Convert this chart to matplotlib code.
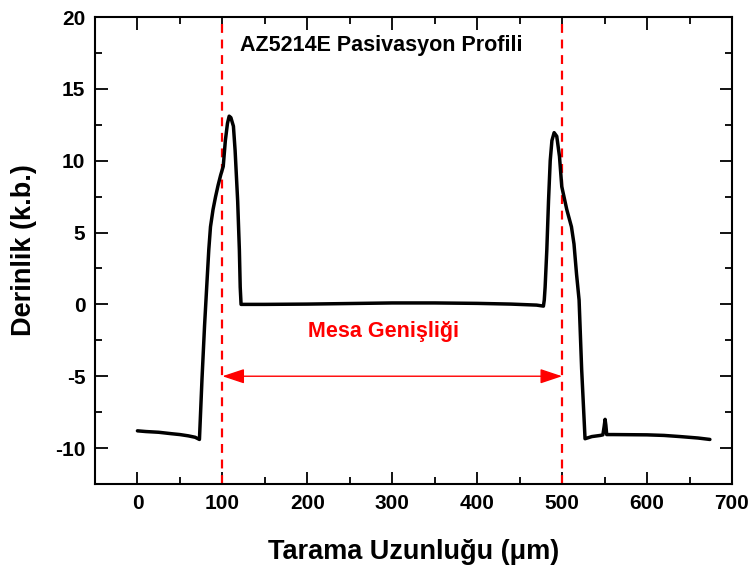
import numpy as np
import matplotlib
matplotlib.use("Agg")
import matplotlib.pyplot as plt
from matplotlib.ticker import MultipleLocator

# profile trace (scan length in um, depth in a.u.)
x_left = [0, 10, 25, 40, 50, 60, 68, 73, 76, 79, 82, 84, 86, 89, 92, 95, 98, 101,
          103.5, 106, 108, 110, 113, 115, 118, 120, 121, 122]
y_left = [-8.8, -8.85, -8.9, -9.0, -9.06, -9.15, -9.25, -9.4, -5.2, -1.5, 1.7, 3.8,
          5.4, 6.6, 7.5, 8.3, 9.0, 9.6, 11.4, 12.6, 13.1, 13.0, 12.4, 10.7, 7.2,
          3.8, 1.2, 0.0]
x_flat = [125, 150, 200, 250, 300, 350, 400, 440, 470, 478]
y_flat = [0.0, 0.0, 0.02, 0.06, 0.1, 0.1, 0.07, 0.02, -0.05, -0.12]
x_right = [479, 480, 482, 484, 486, 488, 490.6, 493.7, 496.9, 499.6, 505.5, 511,
           514, 517, 520, 523, 527]
y_right = [0.3, 1.2, 3.8, 7.2, 10.0, 11.4, 11.95, 11.7, 10.3, 8.2, 6.6, 5.4,
           4.2, 2.1, 0.3, -4.5, -9.35]
x_tail = [535, 545, 548, 549.5, 550.6, 551.5, 552.5, 560, 600, 620, 639, 660, 674]
y_tail = [-9.2, -9.12, -9.08, -8.5, -8.0, -8.4, -9.06, -9.06, -9.08, -9.12, -9.2,
          -9.3, -9.4]

x = x_left + x_flat + x_right + x_tail
y = y_left + y_flat + y_right + y_tail

mesa_edges = [100, 500]
arrow_y = -5

plt.rcParams['font.family'] = ['Liberation Sans', 'DejaVu Sans']
plt.rcParams['font.weight'] = 'bold'
plt.rcParams['axes.unicode_minus'] = False

fig = plt.figure(figsize=(7.55, 5.67), dpi=100)
ax = fig.add_axes([0.1258, 0.1464, 0.8437, 0.8236])

ax.plot(x, y, color='black', lw=2.5, solid_joinstyle='round',
        solid_capstyle='round', zorder=3)

for xe in mesa_edges:
    ax.axvline(xe, color='red', lw=1.6, ls=(0, (4, 3)), zorder=2)

ax.annotate('', xy=(mesa_edges[0], arrow_y), xytext=(mesa_edges[1], arrow_y),
            arrowprops=dict(arrowstyle='<|-|>,head_length=0.9,head_width=0.3',
                            color='red', lw=1.0, mutation_scale=15,
                            shrinkA=0, shrinkB=0))

ax.text(290, -1.9, 'Mesa Genişliği', color='red', fontsize=15.5,
        fontweight='bold', ha='center', va='center')
ax.text(121, 18.0, 'AZ5214E Pasivasyon Profili', color='black', fontsize=15.5,
        fontweight='bold', ha='left', va='center')

ax.set_xlim(-50, 700)
ax.set_ylim(-12.5, 20)
ax.xaxis.set_major_locator(MultipleLocator(100))
ax.xaxis.set_minor_locator(MultipleLocator(50))
ax.yaxis.set_major_locator(MultipleLocator(5))
ax.yaxis.set_minor_locator(MultipleLocator(2.5))
ax.set_xticks(range(0, 701, 100))

ax.tick_params(which='both', direction='in', top=True, right=True, width=1.3,
               labelsize=15)
ax.tick_params(which='major', length=9, pad=7)
ax.tick_params(which='minor', length=5)
for lab in ax.get_xticklabels() + ax.get_yticklabels():
    lab.set_fontweight('bold')
for sp in ax.spines.values():
    sp.set_linewidth(1.5)

ax.set_xlabel('Tarama Uzunluğu (μm)', fontsize=19.5, fontweight='bold', labelpad=19)
ax.set_ylabel('Derinlik (k.b.)', fontsize=19.5, fontweight='bold', labelpad=13)

fig.savefig('out.png', dpi=100)
